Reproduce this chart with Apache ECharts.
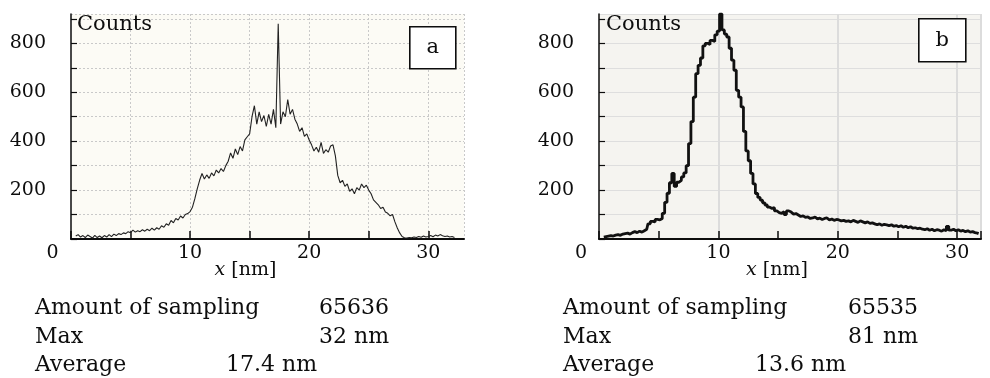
<!DOCTYPE html>
<html>
<head>
<meta charset="utf-8">
<script src="https://cdn.jsdelivr.net/npm/echarts@6/dist/echarts.min.js"></script>
<style>
  html, body { margin: 0; background: #fff; }
  #chart { width: 990px; height: 378px; }
</style>
</head>
<body>
<div id="chart"></div>
<script>
// histogram bins, 0.2 nm wide
const binStep = 0.2;
const binStartA = 0.4;
const countsA = [
  12, 18, 8, 14, 6, 16, 10, 4, 15, 6,
  12, 5, 14, 8, 18, 10, 20, 14, 22, 18,
  25, 22, 30, 26, 36, 28, 34, 30, 38, 32,
  40, 34, 44, 36, 46, 40, 54, 48, 62, 56,
  76, 66, 84, 78, 94, 86, 100, 104, 112, 130,
  165, 205, 240, 268, 245, 262, 248, 270, 258, 282,
  270, 288, 276, 300, 318, 352, 330, 368, 345, 378,
  360, 405, 418, 430, 500, 545, 470, 520, 480, 505,
  460, 510, 470, 530, 455, 880, 470, 520, 500, 570,
  510, 530, 490, 470, 440, 455, 420, 430, 405, 385,
  360, 375, 355, 395, 350, 365, 355, 380, 385, 340,
  260, 230, 240, 215, 225, 195, 205, 185, 210, 200,
  225, 210, 220, 200, 185, 160, 150, 140, 125, 130,
  110, 105, 95, 100, 70, 45, 25, 10, 5, 4,
  6, 5, 8, 6, 10, 7, 12, 8, 10, 14,
  9, 16, 12, 18, 13, 10, 12, 8, 10, 6
];
const binStartB = 0.4;
const countsB = [
  8, 10, 12, 14, 12, 16, 18, 15, 20, 22,
  24, 20, 26, 30, 26, 32, 28, 34, 40, 62,
  72, 70, 80, 78, 84, 105, 150, 187, 230, 268,
  215, 232, 240, 254, 270, 300, 390, 480, 580, 676,
  710, 740, 790, 800, 795, 812, 808, 835, 850, 920,
  855, 838, 826, 780, 731, 690, 608, 580, 540, 440,
  360, 320, 268, 225, 186, 170, 159, 148, 139, 130,
  125, 128, 115, 108, 105, 112, 100, 115, 110, 102,
  104, 98, 92, 95, 88, 90, 84, 86, 90, 82,
  85, 80, 84, 86, 78, 82, 76, 80, 78, 74,
  76, 72, 74, 70, 76, 72, 68, 74, 70, 66,
  70, 64, 66, 62, 58, 62, 56, 60, 58, 55,
  58, 52, 55, 50, 54, 48, 52, 46, 50, 44,
  46, 42, 44, 40, 38, 42, 36, 40, 34, 38,
  36, 32, 38, 34, 52, 36, 40, 34, 38, 32,
  35, 30, 34, 28, 30, 26, 24, 22
];
const yLabelValues = [200, 400, 600, 800];
const xLabelValues = [0, 10, 20, 30];
const statsA = [["Amount of sampling", "65636"], ["Max", "32 nm"], ["Average", "17.4 nm"]];
const statsB = [["Amount of sampling", "65535"], ["Max", "81 nm"], ["Average", "13.6 nm"]];
const panelNames = ["a", "b"];

const serif = "DejaVu Serif";
const ink = "#0d0d0d";

const toPoints = (start, counts) =>
  counts.map((c, i) => [+(start + i * binStep).toFixed(1), c]);

function xAxisFor(gridIndex, max, zeroShift, nameShift, dotted) {
  return {
    type: "value",
    gridIndex,
    min: 0,
    max,
    interval: dotted ? 5 : 10,
    name: "{i|x} [nm]",
    nameLocation: "middle",
    nameGap: 22,
    nameMoveOverlap: false,
    nameTextStyle: {
      fontFamily: serif,
      fontSize: 19,
      color: ink,
      padding: [0, nameShift, 0, 0],
      rich: { i: { fontFamily: serif, fontSize: 19, fontStyle: "italic", color: ink } },
    },
    axisLine: { show: true, onZero: false, lineStyle: { color: ink, width: 2 } },
    axisTick: { show: true, inside: true, length: 8, lineStyle: { color: ink, width: 1.5 } },
    minorTick: dotted
      ? { show: false }
      : { show: true, splitNumber: 2, length: 8, lineStyle: { color: ink, width: 1.5 } },
    axisLabel: {
      margin: 5,
      fontFamily: serif,
      fontSize: 19,
      color: ink,
      showMaxLabel: false,
      formatter: (v) => {
        if (v === 0) return "{z|0}";
        return xLabelValues.includes(v) ? String(v) : "";
      },
      rich: { z: { fontFamily: serif, fontSize: 19, color: ink, padding: [0, zeroShift, 0, 0] } },
    },
    splitLine: {
      show: true,
      showMinLine: false,
      lineStyle: dotted
        ? { color: "#c9c9c9", width: 1, type: [2, 2] }
        : { color: "#dcdcdc", width: 2 },
    },
  };
}

function yAxisFor(gridIndex, dotted) {
  return {
    type: "value",
    gridIndex,
    min: 0,
    max: 920,
    interval: 100,
    axisLine: { show: true, onZero: false, lineStyle: { color: ink, width: 1.5 } },
    axisTick: { show: true, inside: true, length: 6, lineStyle: { color: ink, width: 1.2 } },
    axisLabel: {
      margin: 25,
      fontFamily: serif,
      fontSize: 19,
      color: ink,
      showMaxLabel: false,
      formatter: (v) => (yLabelValues.includes(v) ? String(v) : ""),
    },
    splitLine: {
      show: true,
      showMinLine: false,
      lineStyle: dotted
        ? { color: "#c9c9c9", width: 1, type: [2, 2] }
        : { color: "#dedede", width: 1 },
    },
  };
}

function statsText(stats, left, valueLeft, avgLeft) {
  const rowsY = [310, 339, 367];
  const out = [];
  stats.forEach((row, i) => {
    out.push({
      type: "text", left, top: rowsY[i] - 13, z: 100,
      style: { text: row[0], font: `22px "${serif}"`, fill: ink },
    });
    out.push({
      type: "text", left: i === 2 ? avgLeft : valueLeft, top: rowsY[i] - 13, z: 100,
      style: { text: row[1], font: `22px "${serif}"`, fill: ink },
    });
  });
  return out;
}

function panelBox(name, x, y, w, h) {
  return {
    type: "group", left: x, top: y, z: 100,
    children: [
      { type: "rect", z: 100, shape: { x: 0, y: 0, width: w, height: h },
        style: { fill: "#fff", stroke: ink, lineWidth: 1.6 } },
      { type: "text", z: 101, x: w / 2, y: h / 2,
        style: { text: name, font: `21px "${serif}"`, fill: ink, align: "center", verticalAlign: "middle" } },
    ],
  };
}

const chart = echarts.init(document.getElementById("chart"));
chart.setOption({
  animation: false,
  backgroundColor: "#fff",
  grid: [
    { left: 71, top: 14, width: 393, height: 225, outerBoundsMode: "none",
      show: true, backgroundColor: "#fcfbf5", borderWidth: 0 },
    { left: 599, top: 14, width: 382, height: 225, outerBoundsMode: "none",
      show: true, backgroundColor: "#f5f4f0", borderWidth: 0 },
  ],
  xAxis: [xAxisFor(0, 33, 37, 44, true), xAxisFor(1, 32, 36, 26, false)],
  yAxis: [yAxisFor(0, true), yAxisFor(1, false)],
  series: [
    {
      type: "line", xAxisIndex: 0, yAxisIndex: 0,
      data: toPoints(binStartA, countsA),
      showSymbol: false, silent: true,
      lineStyle: { color: "#222", width: 1.1 },
    },
    {
      type: "line", xAxisIndex: 1, yAxisIndex: 1,
      data: toPoints(binStartB, countsB),
      step: "middle", showSymbol: false, silent: true,
      lineStyle: { color: "#111", width: 2.8 },
    },
  ],
  graphic: [
    { type: "text", left: 77, top: 14, z: 100, style: { text: "Counts", font: `21px "${serif}"`, fill: ink } },
    { type: "text", left: 606, top: 14, z: 100, style: { text: "Counts", font: `21px "${serif}"`, fill: ink } },
    panelBox(panelNames[0], 409, 26, 46, 42),
    panelBox(panelNames[1], 918, 18, 47, 43),
    ...statsText(statsA, 35, 319, 226),
    ...statsText(statsB, 563, 848, 755),
  ],
});
</script>
</body>
</html>
